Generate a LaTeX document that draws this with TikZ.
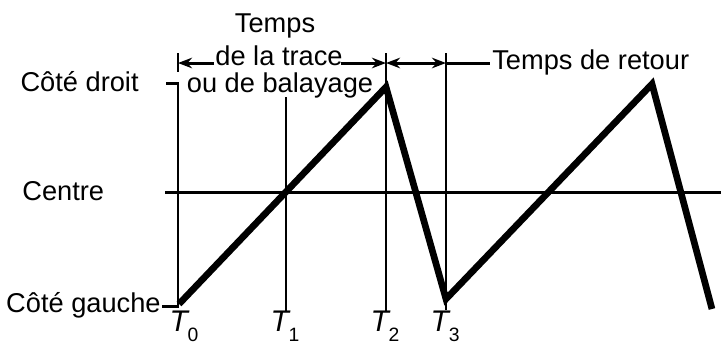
\documentclass[tikz,border=0pt]{standalone}
\usepackage{fontspec}
\setmainfont{Liberation Sans}
\usetikzlibrary{arrows.meta}
\begin{document}
\begin{tikzpicture}[x=0.02cm,y=-0.02cm,
  thin line/.style={line width=1.7pt,line cap=butt},
  wave/.style={line width=3.8pt,line join=miter,miter limit=20},
  lbl/.style={inner sep=0pt,font=\fontsize{15.5}{17}\selectfont},
  tlbl/.style={inner sep=0pt,anchor=base,font=\fontsize{17}{18}\selectfont},
  arr/.style={thin line,-{Stealth[length=8pt,width=6pt]}}]
\useasboundingbox (0,0) rectangle (721,346);
% texts
\node[lbl] (temps) at (275,26) {Temps};
\node[lbl] (trace) at (279,56) {de la trace};
\node[lbl] (balay) at (280,85) {ou de balayage};
\node[lbl,anchor=east] (droit) at (139,82) {Côté droit};
\node[lbl,anchor=west] (centre) at (22,191) {Centre};
\node[lbl,anchor=east] (gauche) at (161,305) {Côté gauche};
\node[lbl,anchor=west] (retour) at (492,62) {Temps de retour};
\node[tlbl] (t0) at (184,331) {\itshape T\raisebox{-6pt}{\upshape\fontsize{11}{11}\selectfont 0}};
\node[tlbl] (t1) at (285,331) {\itshape T\raisebox{-6pt}{\upshape\fontsize{11}{11}\selectfont 1}};
\node[tlbl] (t2) at (385,331) {\itshape T\raisebox{-6pt}{\upshape\fontsize{11}{11}\selectfont 2}};
\node[tlbl] (t3) at (445,331) {\itshape T\raisebox{-6pt}{\upshape\fontsize{11}{11}\selectfont 3}};
% coordinates
\coordinate (cdtick) at (166,83);
\coordinate (t0top) at (178,83);
\coordinate (t0bot) at (178,306);
\coordinate (cgtick) at (162,306);
\coordinate (b0a) at (178,53);
\coordinate (b0b) at (178,72);
\coordinate (t1top) at (286,97);
\coordinate (t1bot) at (286,311);
\coordinate (t2top) at (386,53);
\coordinate (t2bot) at (386,312);
\coordinate (t3top) at (446,53);
\coordinate (t3bot) at (446,310);
\coordinate (cl) at (165,192);
\coordinate (cr) at (721,192);
\coordinate (a0) at (178,63);
\coordinate (a1) at (214,63);
\coordinate (a2) at (341,63);
\coordinate (a3) at (386,63);
\coordinate (a4) at (446,63);
\coordinate (a5) at (490,63);
\coordinate (s0) at (179,304);
\coordinate (p1) at (386,87);
\coordinate (v1) at (446,299);
\coordinate (p2) at (652,84);
\coordinate (e2) at (712,309);
% lines
\draw[thin line] (cdtick) -- (t0top) -- (t0bot) -- (cgtick);
\draw[thin line] (b0a) -- (b0b);
\draw[thin line] (t1top) -- (t1bot);
\draw[thin line] (t2top) -- (t2bot);
\draw[thin line] (t3top) -- (t3bot);
\draw[thin line] (cl) -- (cr);
\draw[arr] (a1) -- (a0);
\draw[arr] (a2) -- (a3);
\draw[thin line,{Stealth[length=8pt,width=6pt]}-{Stealth[length=8pt,width=6pt]}] (a3) -- (a4);
\draw[thin line] (a4) -- (a5);
\draw[wave] (s0) -- (p1) -- (v1) -- (p2) -- (e2);
\end{tikzpicture}
\end{document}
